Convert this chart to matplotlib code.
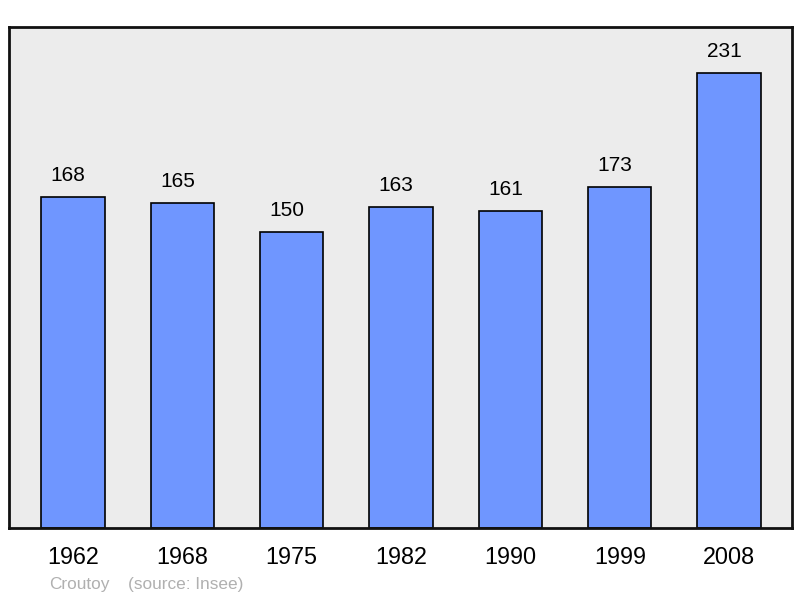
import matplotlib
matplotlib.use("Agg")
import matplotlib.pyplot as plt

years = ["1962", "1968", "1975", "1982", "1990", "1999", "2008"]
population = [168, 165, 150, 163, 161, 173, 231]

plt.rcParams['font.family'] = ['Liberation Sans', 'DejaVu Sans']

fig = plt.figure(figsize=(8, 5.98), dpi=100)
ax = fig.add_axes([9/800, 70/598, 783/800, 501/598])
ax.set_facecolor('#ececec')

x = list(range(len(years)))
ax.bar(x, population, width=0.58, color='#6f96ff', edgecolor='black', linewidth=1.2, zorder=2)
for xi, v in zip(x, population):
    ax.annotate(str(v), (xi, v), xytext=(-3.5, 8.5), textcoords='offset points',
                ha='center', va='bottom', fontsize=15, color='black')

ax.set_xlim(-0.585, len(years) - 1 + 0.575)
ax.set_ylim(0, max(population) * 1.1)
ax.set_xticks(x)
ax.set_xticklabels(years, fontsize=16.8)
ax.tick_params(axis='x', length=0, pad=13)
ax.set_yticks([])
for s in ax.spines.values():
    s.set_linewidth(2)
    s.set_color('#111111')

fig.text(49/800, 1 - 585/598, "Croutoy", fontsize=12.4, color='#b0b0b0', va='center', ha='left')
fig.text(128/800, 1 - 585/598, "(source: Insee)", fontsize=12.4, color='#b0b0b0', va='center', ha='left')

fig.savefig("out.png", dpi=100)
